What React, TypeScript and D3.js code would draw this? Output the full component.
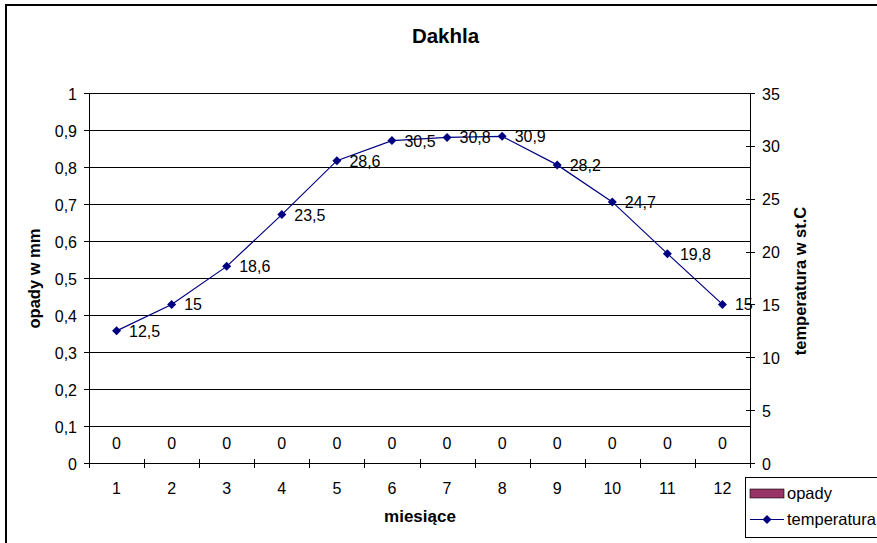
import React from "react";
import * as d3 from "d3";

const months = ["1", "2", "3", "4", "5", "6", "7", "8", "9", "10", "11", "12"];
const opady = [0, 0, 0, 0, 0, 0, 0, 0, 0, 0, 0, 0];
const temperatura = [12.5, 15, 18.6, 23.5, 28.6, 30.5, 30.8, 30.9, 28.2, 24.7, 19.8, 15];
const leftTicks = [0, 0.1, 0.2, 0.3, 0.4, 0.5, 0.6, 0.7, 0.8, 0.9, 1];
const rightTicks = [0, 5, 10, 15, 20, 25, 30, 35];

const W = 877, H = 543;
const L = 89, R = 750, T = 93, B = 463;
const font = "Liberation Sans, Arial, sans-serif";
const FS = 16;
const fmt = (v: number) => String(v).replace(".", ",");

export default function App() {
  const x = d3.scaleBand().domain(months).range([L, R]).paddingInner(0).paddingOuter(0);
  const yL = d3.scaleLinear().domain([0, 1]).range([B, T]);
  const yR = d3.scaleLinear().domain([0, 35]).range([B, T]);
  const cx = (m: string) => (x(m) as number) + x.bandwidth() / 2;
  const line = d3.line<number>().x((_, i) => cx(months[i])).y((d) => yR(d));
  const diamond = (px: number, py: number, s = 4.5) =>
    `M${px},${py - s}L${px + s},${py}L${px},${py + s}L${px - s},${py}Z`;
  const bounds = months.map((m) => x(m) as number).concat([R]);

  return (
    <svg width={W} height={H} style={{ position: "absolute", left: 0, top: 0, background: "#fff" }} fontFamily={font}>
      <rect x={0} y={0} width={W} height={H} fill="#fff" />
      <rect x={6} y={5} width={W + 20} height={H + 20} fill="none" stroke="#000" strokeWidth={2} />
      <text x={445.5} y={43} textAnchor="middle" fontSize={20.5} fontWeight="bold">Dakhla</text>
      {/* gridlines */}
      {leftTicks.map((t) => (
        <line key={"g" + t} x1={L} x2={R} y1={Math.round(yL(t)) + 0.5} y2={Math.round(yL(t)) + 0.5} stroke="#000" />
      ))}
      {/* left axis */}
      <line x1={L + 0.5} x2={L + 0.5} y1={T} y2={B + 0.5} stroke="#000" />
      {leftTicks.map((t) => (
        <g key={"l" + t}>
          <line x1={L - 5} x2={L} y1={Math.round(yL(t)) + 0.5} y2={Math.round(yL(t)) + 0.5} stroke="#000" />
          <text x={77} y={yL(t) + 1} dy="0.35em" textAnchor="end" fontSize={FS}>{fmt(t)}</text>
        </g>
      ))}
      {/* right axis */}
      <line x1={R + 0.5} x2={R + 0.5} y1={T} y2={B + 0.5} stroke="#000" />
      {rightTicks.map((t) => (
        <g key={"r" + t}>
          <line x1={R - 4} x2={R + 5} y1={Math.round(yR(t)) + 0.5} y2={Math.round(yR(t)) + 0.5} stroke="#000" />
          <text x={762} y={yR(t) + 1} dy="0.35em" textAnchor="start" fontSize={FS}>{t}</text>
        </g>
      ))}
      {/* x axis */}
      <line x1={L} x2={R} y1={B + 0.5} y2={B + 0.5} stroke="#000" />
      {bounds.map((b, i) => (
        <line key={"xt" + i} x1={Math.round(b) + 0.5} x2={Math.round(b) + 0.5} y1={B - 4} y2={B + 5} stroke="#000" />
      ))}
      {months.map((m) => (
        <text key={"xl" + m} x={cx(m)} y={494} textAnchor="middle" fontSize={FS}>{m}</text>
      ))}
      {/* bars (zero) + labels */}
      {opady.map((v, i) => (
        <g key={"b" + i}>
          <rect x={cx(months[i]) - 15} width={30} y={yL(v)} height={B - yL(v)} fill="#993366" />
          <text x={cx(months[i])} y={yL(v) - 14} textAnchor="middle" fontSize={FS}>{fmt(v)}</text>
        </g>
      ))}
      {/* temperature line */}
      <path d={line(temperatura) as string} fill="none" stroke="#000080" strokeWidth={1.2} />
      {temperatura.map((v, i) => (
        <g key={"p" + i}>
          <path d={diamond(cx(months[i]), yR(v))} fill="#000080" />
          <text x={cx(months[i]) + 12.5} y={yR(v) + 6} fontSize={FS}>{fmt(v)}</text>
        </g>
      ))}
      {/* axis titles */}
      <text transform={`translate(40,278.5) rotate(-90)`} textAnchor="middle" fontSize={16.5} fontWeight="bold">opady w mm</text>
      <text transform={`translate(806,281) rotate(-90)`} textAnchor="middle" fontSize={16.5} fontWeight="bold">temperatura w st.C</text>
      <text x={420} y={522} textAnchor="middle" fontSize={17} fontWeight="bold">miesiące</text>
      {/* legend */}
      <rect x={745.5} y={477.5} width={140} height={60} fill="#fff" stroke="#000" />
      <rect x={750} y={489} width={34} height={9} fill="#993366" stroke="#000" strokeWidth={0.6} />
      <text x={787} y={499} fontSize={16.5}>opady</text>
      <line x1={750} x2={784} y1={519.5} y2={519.5} stroke="#000080" strokeWidth={1.2} />
      <path d={diamond(767, 519.5)} fill="#000080" />
      <text x={787} y={525} fontSize={16.5}>temperatura</text>
    </svg>
  );
}
